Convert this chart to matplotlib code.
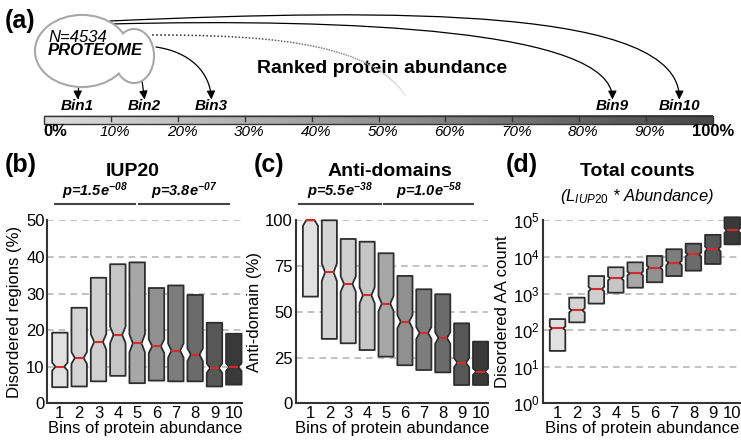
import numpy as np
import matplotlib
matplotlib.use('Agg')
import matplotlib.pyplot as plt
from matplotlib.patches import Ellipse, Polygon, FancyArrowPatch, Rectangle
from matplotlib.path import Path
from matplotlib.colors import LinearSegmentedColormap
from matplotlib.ticker import LogLocator, NullLocator
import matplotlib.transforms as mtransforms

plt.rcParams['font.family'] = ['Liberation Sans', 'DejaVu Sans']
plt.rcParams['mathtext.fontset'] = 'custom'
plt.rcParams['mathtext.rm'] = 'Liberation Sans'
plt.rcParams['mathtext.it'] = 'Liberation Sans:italic'
plt.rcParams['mathtext.bf'] = 'Liberation Sans:italic:bold'

# ---- data ----
N_PROTEINS = 4534
bins = [1, 2, 3, 4, 5, 6, 7, 8, 9, 10]
bin_labels = ['1', '2', '3', '4', '5', '6', '7', '8', '9', '10']
pct_labels = ['0%', '10%', '20%', '30%', '40%', '50%', '60%', '70%', '80%', '90%', '100%']
shown_bins = [1, 2, 3, 9, 10]

iup_q1 = [4.4, 4.6, 6.0, 7.5, 5.5, 6.2, 6.0, 6.0, 4.6, 5.1]
iup_med = [10.0, 12.4, 16.8, 18.7, 16.4, 15.6, 14.4, 13.3, 9.6, 9.9]
iup_q3 = [19.3, 26.1, 34.3, 38.0, 38.5, 31.5, 32.2, 29.6, 22.0, 19.0]

anti_q1 = [58.3, 35.2, 32.8, 29.1, 25.5, 20.8, 18.2, 16.9, 10.0, 10.0]
anti_med = [100.0, 71.6, 65.2, 59.0, 54.5, 44.6, 38.4, 35.7, 22.2, 17.3]
anti_q3 = [100.0, 100.0, 89.8, 88.3, 82.0, 69.6, 62.3, 59.6, 43.7, 33.7]

count_q1 = [27, 163, 530, 1050, 1440, 2030, 3000, 4200, 6400, 22000]
count_med = [112, 350, 1330, 2600, 3550, 5100, 6900, 11700, 16500, 53000]
count_q3 = [200, 770, 3000, 5200, 7100, 10600, 16200, 23000, 40000, 121000]

iup_pvals = [r'p=1.5e$^{\mathbf{-08}}$', r'p=3.8e$^{\mathbf{-07}}$']
anti_pvals = [r'p=5.5e$^{\mathbf{-38}}$', r'p=1.0e$^{\mathbf{-58}}$']

box_colors = ['#e1e1e1', '#d4d4d4', '#cfcfcf', '#c6c6c6', '#a7a7a7',
              '#909090', '#7d7d7d', '#6b6b6b', '#575757', '#393939']

n_per_bin = N_PROTEINS / len(bins)
W, H = 741, 444
fig = plt.figure(figsize=(W / 100, H / 100), dpi=100)

# background axes in pixel units for the schematic and the titles
ax_a = fig.add_axes([0, 0, 1, 1])
ax_a.set_axis_off()


def px_axes(x0, x1, y0, y1):
    return fig.add_axes([x0 / W, 1 - y1 / H, (x1 - x0) / W, (y1 - y0) / H])


def draw_box(ax, pos, q1, med, q3, color, width=0.8, depth=0.22):
    ci = 1.57 * (q3 - q1) / np.sqrt(n_per_bin)
    lo, hi = med - ci, med + ci
    left, right = pos - width / 2, pos + width / 2
    nl, nr = left + depth * width, right - depth * width
    pts = []
    if lo >= q1:
        pts += [(left, q1), (right, q1), (right, lo)]
    else:
        f = (med - q1) / (med - lo)
        pts += [(nl - (nl - left) * f, q1), (nr + (right - nr) * f, q1)]
    pts.append((nr, med))
    if hi <= q3:
        pts += [(right, hi), (right, q3), (left, q3), (left, hi)]
    else:
        f = (q3 - med) / (hi - med)
        pts += [(nr + (right - nr) * f, q3), (nl - (nl - left) * f, q3)]
    pts.append((nl, med))
    if lo >= q1:
        pts.append((left, lo))
    ax.add_patch(Polygon(pts, closed=True, fc=color, ec='#2e2e2e', lw=1.3,
                         joinstyle='round', zorder=3, clip_on=False))
    ax.plot([nl, nr], [med, med], color='#d42a2a', lw=1.5,
            solid_capstyle='butt', zorder=4, clip_on=False)


def style_axis(ax, xlim):
    ax.set_facecolor('none')
    ax.set_xlim(*xlim)
    for s in ['top', 'right']:
        ax.spines[s].set_visible(False)
    for s in ['left', 'bottom']:
        ax.spines[s].set_linewidth(1.5)
        ax.spines[s].set_color('#333333')
    ax.set_xticks(bins)
    ax.set_xticklabels(bin_labels)
    ax.tick_params(axis='both', labelsize=12, length=0, pad=2)
    ax.yaxis.grid(True, ls=(0, (4, 3)), color='#b8b8b8', lw=1.2)
    ax.set_axisbelow(True)
    ax.set_xlabel('Bins of protein abundance', fontsize=12, labelpad=0)


def p_brackets(ax, spans, texts):
    trans = mtransforms.blended_transform_factory(ax.transData, ax.transAxes)
    for (x0, x1), t in zip(spans, texts):
        ax.plot([x0, x1], [1.087, 1.087], color='#444444', lw=1.5,
                transform=trans, clip_on=False)
        ax.text((x0 + x1) / 2, 1.098, t, transform=trans, ha='center',
                va='bottom', fontsize=10.5, fontweight='bold', fontstyle='italic')


# ---- panel (b) ----
ax_b = px_axes(47.5, 242.5, 220.3, 403.3)
style_axis(ax_b, (0.36, 10.45))
ax_b.set_ylim(0, 50)
ax_b.set_yticks([0, 10, 20, 30, 40, 50])
for i, b in enumerate(bins):
    draw_box(ax_b, b, iup_q1[i], iup_med[i], iup_q3[i], box_colors[i])
ax_b.set_ylabel('Disordered regions (%)', fontsize=12, labelpad=3)
p_brackets(ax_b, [(0.75, 4.9), (5.1, 9.75)], iup_pvals)

# ---- panel (c) ----
ax_c = px_axes(295.7, 488.1, 220.3, 403.3)
style_axis(ax_c, (0.22, 10.4))
ax_c.set_ylim(0, 100)
ax_c.set_yticks([0, 25, 50, 75, 100])
for i, b in enumerate(bins):
    draw_box(ax_c, b, anti_q1[i], anti_med[i], anti_q3[i], box_colors[i])
ax_c.set_ylabel('Anti-domain (%)', fontsize=12, labelpad=2)
p_brackets(ax_c, [(0.4, 4.75), (4.9, 9.6)], anti_pvals)

# ---- panel (d) ----
ax_d = px_axes(542.7, 741, 220.3, 403.3)
style_axis(ax_d, (0.235, 10.45))
ax_d.set_yscale('log')
ax_d.set_ylim(1, 1e5)
ax_d.yaxis.set_major_locator(LogLocator(base=10, numticks=10))
ax_d.yaxis.set_minor_locator(NullLocator())
for i, b in enumerate(bins):
    draw_box(ax_d, b, count_q1[i], count_med[i], count_q3[i], box_colors[i],
             depth=0.15)
ax_d.set_ylabel('Disordered AA count', fontsize=12, labelpad=2)

# ---- titles and panel letters ----
for x, lab in [(5, '(b)'), (254, '(c)'), (506, '(d)')]:
    ax_a.text(x, 165, lab, fontsize=18, fontweight='bold', ha='left', va='center')
ax_a.text(5, 21, '(a)', fontsize=18, fontweight='bold', ha='left', va='center')
ax_a.text(133, 171.5, 'IUP20', fontsize=14, fontweight='bold', ha='center', va='center')
ax_a.text(390, 171.5, 'Anti-domains', fontsize=14, fontweight='bold', ha='center', va='center')
ax_a.text(637, 171.5, 'Total counts', fontsize=14, fontweight='bold', ha='center', va='center')
ax_a.text(637, 196, r'($L_{\mathit{IUP20}}$ * Abundance)', fontsize=12,
          fontstyle='italic', ha='center', va='center')

# ---- panel (a): schematic ----
bar_l, bar_r, bar_t, bar_b = 44.3, 712.7, 115.7, 124.0
bar_w = bar_r - bar_l
cmap = LinearSegmentedColormap.from_list('abund', ['#dedede', '#474747'])
ax_a.imshow(np.linspace(0, 1, 256)[None, :], extent=[bar_l, bar_r, bar_b, bar_t],
            aspect='auto', cmap=cmap, zorder=2)
ax_a.add_patch(Rectangle((bar_l, bar_t), bar_w, bar_b - bar_t, fill=False,
                         ec='#333333', lw=1, zorder=3))
for k, lab in enumerate(pct_labels):
    x = bar_l + k * bar_w / 10
    if 0 < k < 10:
        ax_a.plot([x, x], [bar_t, bar_t + 5], color='#333333', lw=1, zorder=3)
        ax_a.text(x + 4, 131.5, lab, fontsize=11, fontstyle='italic',
                  ha='center', va='center')
    elif k == 0:
        ax_a.text(x - 1, 131.5, lab, fontsize=12, fontweight='bold',
                  ha='left', va='center')
    else:
        ax_a.text(x, 131.5, lab, fontsize=12, fontweight='bold',
                  ha='center', va='center')

bin_x = {b: bar_l + (b - 0.5) * bar_w / 10 for b in shown_bins}
for b in shown_bins:
    ax_a.text(bin_x[b], 105.5, 'Bin%d' % b, fontsize=11, fontweight='bold',
              fontstyle='italic', ha='center', va='center')

# cloud (union of two ellipses)
lobes = [((82, 51), 92, 70), ((134, 56), 38, 52)]
for c, w, h in lobes:
    ax_a.add_patch(Ellipse(c, w, h, fc='white', ec='#a8a8a8', lw=3, zorder=5))
for c, w, h in lobes:
    ax_a.add_patch(Ellipse(c, w, h, fc='white', ec='none', zorder=6))
ax_a.text(48, 37, 'N=4534', fontsize=12, fontstyle='italic', ha='left',
          va='center', zorder=7)
ax_a.text(48, 50.5, 'PROTEOME', fontsize=12, fontweight='bold', fontstyle='italic',
          ha='left', va='center', zorder=7)

tip_y = 99.5
curves = {
    1: [(bin_x[1], 86), (bin_x[1], tip_y)],
    2: [(142, 80.5), (bin_x[2], tip_y)],
    3: [(156, 47), (190, 52), (210, 72), (bin_x[3], tip_y)],
    9: [(110, 24), (350, 18), (612, 30), (bin_x[9], tip_y)],
    10: [(110, 21), (400, 8), (680, 8), (bin_x[10], tip_y)],
}
for b, verts in curves.items():
    codes = [Path.MOVETO, Path.LINETO] if len(verts) == 2 else \
        [Path.MOVETO, Path.CURVE4, Path.CURVE4, Path.CURVE4]
    arr = FancyArrowPatch(path=Path(verts, codes),
                          arrowstyle='-|>,head_length=0.5,head_width=0.25',
                          mutation_scale=10, color='black', lw=0.9, zorder=4)
    ax_a.add_patch(arr)

# fading dotted curve toward the middle of the ranking
p0, p1, p2, p3 = [np.array(p) for p in [(153, 35), (280, 35), (370, 45), (405, 95)]]
t = np.linspace(0, 1, 95)[:, None]
pts = (1 - t) ** 3 * p0 + 3 * (1 - t) ** 2 * t * p1 + 3 * (1 - t) * t ** 2 * p2 + t ** 3 * p3
shade = np.linspace(0.1, 0.88, len(pts))
ax_a.scatter(pts[:, 0], pts[:, 1], s=1.6, c=[(g, g, g) for g in shade],
             linewidths=0, zorder=4)

ax_a.text(257, 73.3, 'Ranked protein abundance', fontsize=14, fontweight='bold',
          ha='left', va='baseline')

ax_a.set_xlim(0, W)
ax_a.set_ylim(H, 0)

fig.savefig('out.png', dpi=100)
